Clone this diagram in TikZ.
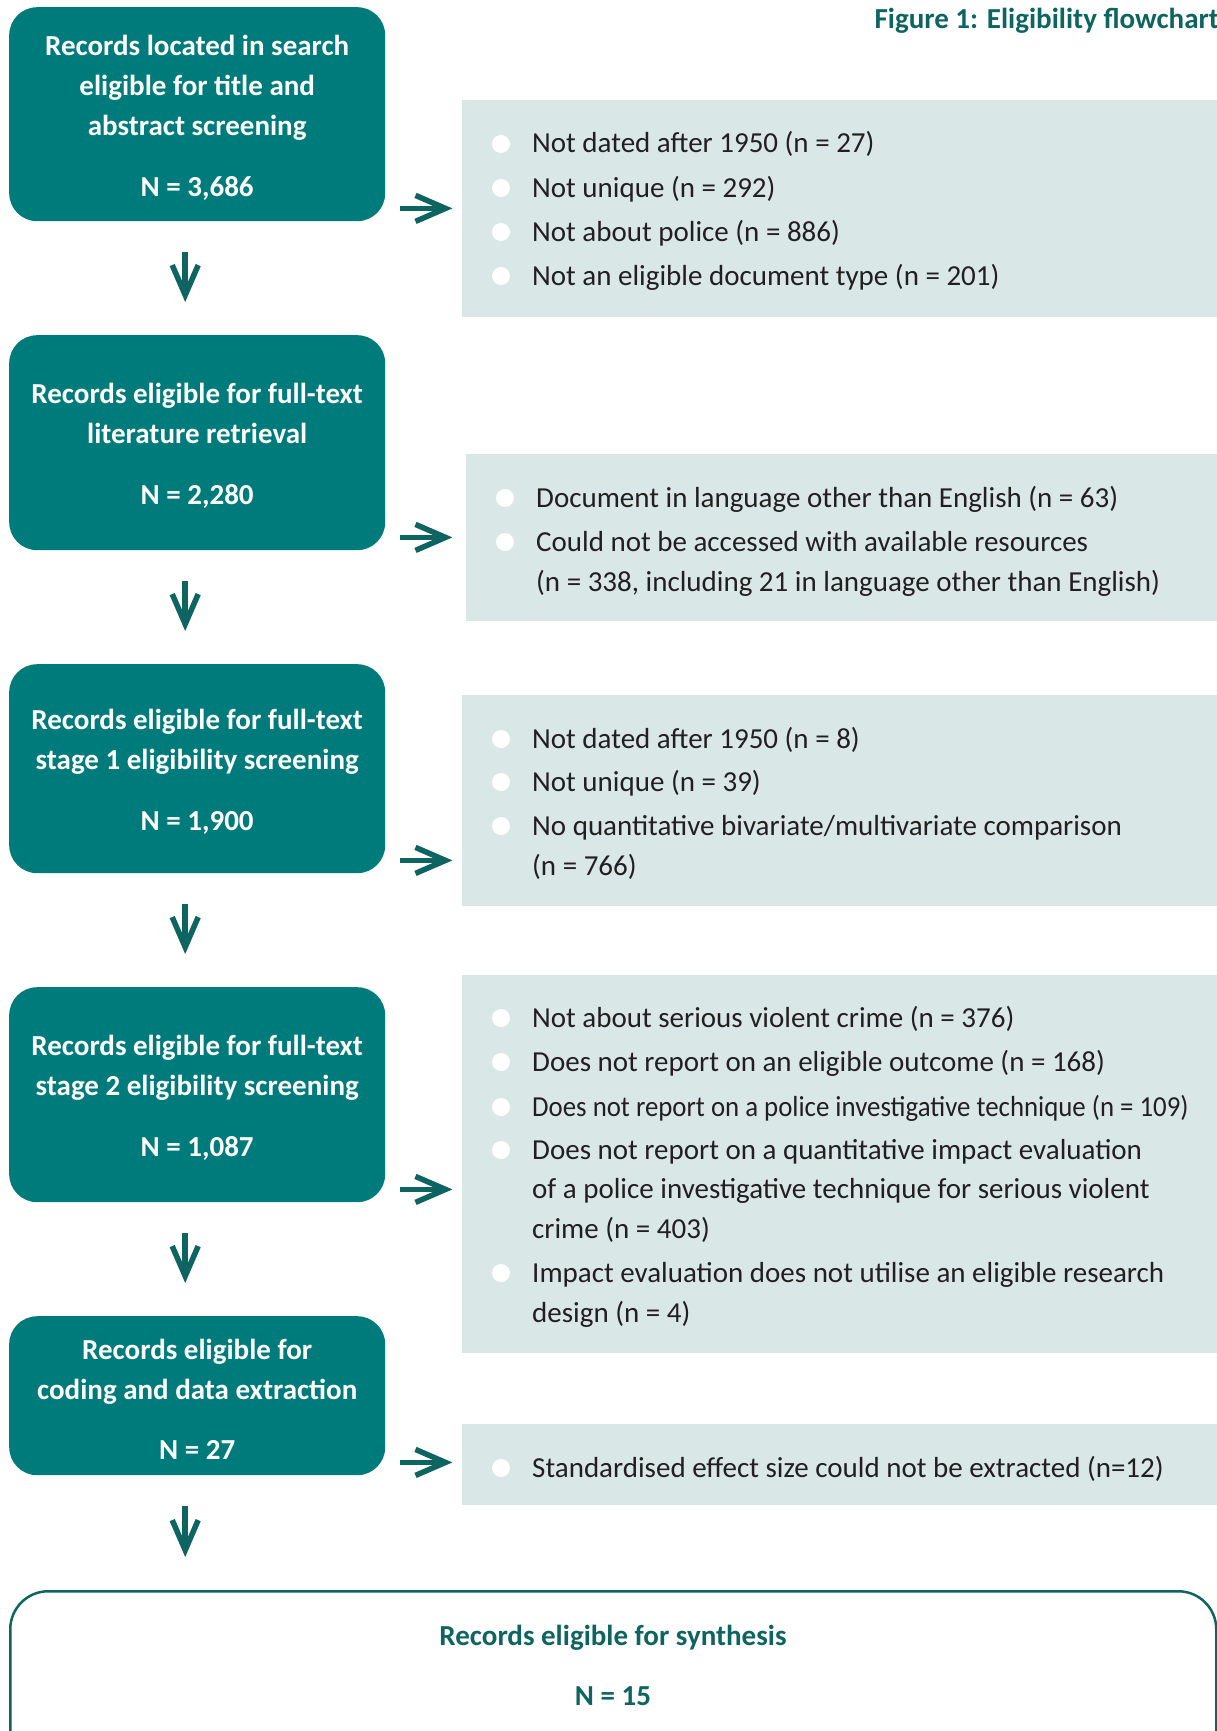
\documentclass[tikz,border=0pt]{standalone}
\usepackage{fontspec}
\setmainfont{Carlito}
\usepackage{graphicx}
\usetikzlibrary{arrows.meta,calc,shapes.geometric}
\definecolor{boxteal}{RGB}{0,123,123}
\definecolor{darkteal}{RGB}{14,100,96}
\definecolor{greybg}{RGB}{217,231,231}
\definecolor{txtdark}{RGB}{35,31,32}
\tikzset{
  tbox/.style={fill=boxteal, rounded corners=28pt, minimum width=376pt, anchor=north west,
    inner sep=0pt},
  tboxtxt/.style={inner sep=0pt, text=white, font=\bfseries\fontsize{29}{40}\selectfont, align=center},
  gbox/.style={fill=greybg, anchor=north west, minimum width=770pt, inner sep=0pt},
  bul/.style={circle, fill=white, minimum size=18pt, inner sep=0pt},
  gtxt/.style={anchor=base west, inner sep=0pt, text=txtdark, font=\fontsize{29}{34}\selectfont},
  arr/.style={draw=darkteal, line width=5.5pt, -{Straight Barb[length=30pt,width=26pt]}},
  finbox/.style={draw=darkteal, line width=2.5pt, rounded corners=38pt, anchor=north west,
    minimum width=1206pt, minimum height=200pt, inner sep=0pt},
  fintxt/.style={text=darkteal, font=\bfseries\fontsize{29}{34}\selectfont, anchor=base, inner sep=0pt},
}
\newcommand\gitem[4]{% name, x(bullet), y, text
  \node[bul] (#1b) at (#2,#3) {};
  \node[gtxt] (#1) at ($(#2,#3)+(31,9)$) {#4};}
\newcommand\gcont[4]{% name, x(bullet), y, text
  \node[gtxt] (#1) at ($(#2,#3)+(31,9)$) {#4};}
\begin{document}
\begin{tikzpicture}[x=1pt,y=-1pt]
\useasboundingbox (0,0) rectangle (1217,1731);
\clip (0,0) rectangle (1217,1731);
% title
\node[anchor=base east, inner sep=0pt, text=darkteal, font=\bfseries\fontsize{29}{30}\selectfont] (title) at (1219,29) {Figure 1: Eligibility flowchart};
% teal boxes
\node[tbox, minimum height=214pt] (b1) at (9,7) {};
\node[tbox, minimum height=215pt] (b2) at (9,335) {};
\node[tbox, minimum height=209pt] (b3) at (9,664) {};
\node[tbox, minimum height=215pt] (b4) at (9,987) {};
\node[tbox, minimum height=159pt] (b5) at (9,1316) {};
\node[tboxtxt] (b1t) at ($(b1.center)+(0,3.5)$) {Records located in search\\eligible for title and\\abstract screening\\[21pt]N = 3,686};
\node[tboxtxt] (b2t) at ($(b2.center)+(0,3.5)$) {Records eligible for full-text\\literature retrieval\\[21pt]N = 2,280};
\node[tboxtxt] (b3t) at ($(b3.center)+(0,3.5)$) {Records eligible for full-text\\stage 1 eligibility screening\\[21pt]N = 1,900};
\node[tboxtxt] (b4t) at ($(b4.center)+(0,3.5)$) {Records eligible for full-text\\stage 2 eligibility screening\\[21pt]N = 1,087};
\node[tboxtxt] (b5t) at ($(b5.center)+(0,3.5)$) {Records eligible for\\coding and data extraction\\[20pt]N = 27};
% final box
\node[finbox] (fin) at (9,1590) {};
\node[fintxt] (fint1) at (613,1645) {Records eligible for synthesis};
\node[fintxt] (fint2) at (613,1705) {N = 15};
% grey boxes
\node[gbox, minimum height=217pt] (g1) at (462,100) {};
\node[gbox, minimum height=167pt] (g2) at (466,454) {};
\node[gbox, minimum height=211pt] (g3) at (462,695) {};
\node[gbox, minimum height=378pt] (g4) at (462,975) {};
\node[gbox, minimum height=81pt] (g5) at (462,1424) {};
% grey box items
\gitem{i11}{501}{144}{Not dated after 1950 (n = 27)}
\gitem{i12}{501}{188}{Not unique (n = 292)}
\gitem{i13}{501}{232}{Not about police (n = 886)}
\gitem{i14}{501}{276}{Not an eligible document type (n = 201)}
\gitem{i21}{505}{498}{Document in language other than English (n = 63)}
\gitem{i22}{505}{542}{Could not be accessed with available resources}
\gcont{i22c}{505}{582}{(n = 338, including 21 in language other than English)}
\gitem{i31}{501}{739}{Not dated after 1950 (n = 8)}
\gitem{i32}{501}{782}{Not unique (n = 39)}
\gitem{i33}{501}{826}{No quantitative bivariate/multivariate comparison}
\gcont{i33c}{501}{866}{(n = 766)}
\gitem{i41}{501}{1018}{Not about serious violent crime (n = 376)}
\gitem{i42}{501}{1062}{Does not report on an eligible outcome (n = 168)}
\gitem{i43}{501}{1107}{\scalebox{0.925}[1]{Does not report on a police investigative technique (n = 109)}}
\gitem{i44}{501}{1150}{Does not report on a quantitative impact evaluation}
\gcont{i44c}{501}{1189}{of a police investigative technique for serious violent}
\gcont{i44d}{501}{1229}{crime (n = 403)}
\gitem{i45}{501}{1273}{Impact evaluation does not utilise an eligible research}
\gcont{i45c}{501}{1313}{design (n = 4)}
\gitem{i51}{501}{1468}{Standardised effect size could not be extracted (n=12)}
% right arrows
\foreach \b in {b1,b2,b3,b4,b5}{
  \draw[arr] ($(\b.south east)+(15,-13)$) -- ($(\b.south east)+(67,-13)$);
}
% down arrows
\draw[arr] ($(b1.south)+(-12,31)$) -- ($(b2.north)+(-12,-33)$);
\draw[arr] ($(b2.south)+(-12,31)$) -- ($(b3.north)+(-12,-33)$);
\draw[arr] ($(b3.south)+(-12,31)$) -- ($(b4.north)+(-12,-33)$);
\draw[arr] ($(b4.south)+(-12,31)$) -- ($(b5.north)+(-12,-33)$);
\draw[arr] ($(b5.south)+(-12,31)$) -- ($(b5.south |- fin.north)+(-12,-33)$);
\end{tikzpicture}
\end{document}
